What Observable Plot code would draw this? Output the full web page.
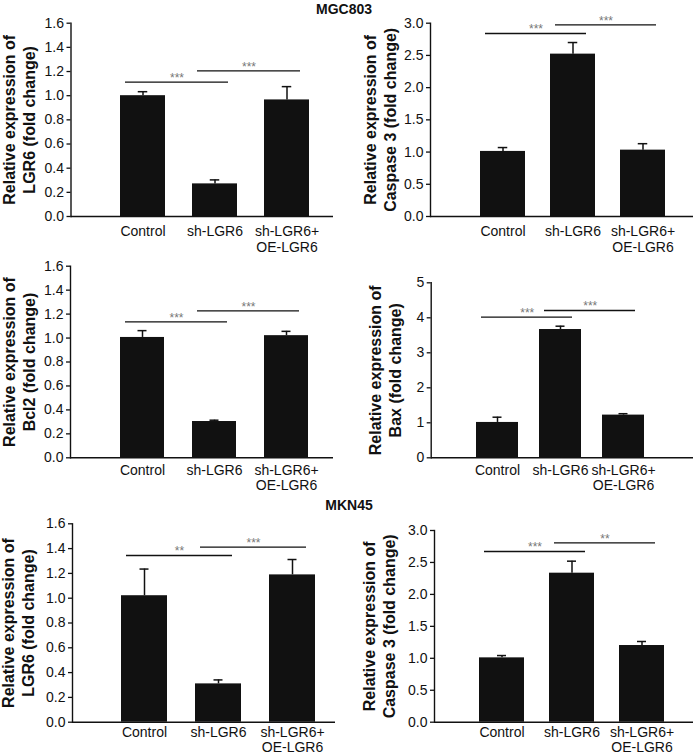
<!DOCTYPE html>
<html>
<head>
<meta charset="utf-8">
<script src="https://cdn.jsdelivr.net/npm/d3@7"></script>
<script src="https://cdn.jsdelivr.net/npm/@observablehq/plot@0.6"></script>
<style>
  html, body { margin: 0; padding: 0; background: #fff; }
  #wrap { position: relative; width: 693px; height: 755px; overflow: hidden; font-family: "Liberation Sans", Arial, sans-serif; }
  .cell { position: absolute; }
  .head { position: absolute; font-weight: bold; font-size: 14px; transform: translate(-50%, -50%); z-index: 5; color: #111; white-space: nowrap; }
</style>
</head>
<body>
<div id="wrap"></div>
<script>
// ---------- data ----------
const groups = ["Control", "sh-LGR6", "sh-LGR6+ OE-LGR6"];

const mgcLgr6 = [1.00, 0.27, 0.965];
const mgcLgr6Err = [0.033, 0.033, 0.11];
const mgcCasp3 = [1.01, 2.52, 1.03];
const mgcCasp3Err = [0.06, 0.18, 0.10];
const mgcBcl2 = [1.005, 0.303, 1.02];
const mgcBcl2Err = [0.057, 0.011, 0.036];
const mgcBax = [1.01, 3.665, 1.22];
const mgcBaxErr = [0.15, 0.095, 0.04];
const mknLgr6 = [1.02, 0.309, 1.188];
const mknLgr6Err = [0.215, 0.032, 0.124];
const mknCasp3 = [1.007, 2.332, 1.20];
const mknCasp3Err = [0.036, 0.188, 0.063];

// significance brackets: [from, to]
const comparisons = [["Control", "sh-LGR6"], ["sh-LGR6", "sh-LGR6+ OE-LGR6"]];
const mgcLgr6Sig = [1.112, 1.205], mgcLgr6Stars = ["***", "***"];
const mgcCasp3Sig = [2.84, 2.974], mgcCasp3Stars = ["***", "***"];
const mgcBcl2Sig = [1.135, 1.227], mgcBcl2Stars = ["***", "***"];
const mgcBaxSig = [4.02, 4.21], mgcBaxStars = ["***", "***"];
const mknLgr6Sig = [1.344, 1.412], mknLgr6Stars = ["**", "***"];
const mknCasp3Sig = [2.671, 2.807], mknCasp3Stars = ["***", "**"];

const ticks16 = [0, 0.2, 0.4, 0.6, 0.8, 1.0, 1.2, 1.4, 1.6];
const ticks30 = [0, 0.5, 1.0, 1.5, 2.0, 2.5, 3.0];
const ticks5 = [0, 1, 2, 3, 4, 5];

const titles = {
  lgr6: "Relative expression of\nLGR6 (fold change)",
  casp3: "Relative expression of\nCaspase 3 (fold change)",
  bcl2: "Relative expression of\nBcl2 (fold change)",
  bax: "Relative expression of\nBax (fold change)"
};

// ---------- layout ----------
const panels = [
  {values: mgcLgr6, err: mgcLgr6Err, sig: mgcLgr6Sig, stars: mgcLgr6Stars, ticks: ticks16, fmt: ".1f", title: titles.lgr6,
   left: 0, top: 0, w: 340, h: 252, fL: 70.5, fR: 333, fT: 22.7, fB: 216, barStart: 120, barW: 44.5, step: 72, tOff: 52, tp: 9, lh: 1.1},
  {values: mgcCasp3, err: mgcCasp3Err, sig: mgcCasp3Sig, stars: mgcCasp3Stars, ticks: ticks30, fmt: ".1f", title: titles.casp3,
   left: 340, top: 0, w: 353, h: 252, fL: 430, fR: 693, fT: 22.7, fB: 216, barStart: 480, barW: 44.5, step: 70, tOff: 51, tp: 9, lh: 1.1},
  {values: mgcBcl2, err: mgcBcl2Err, sig: mgcBcl2Sig, stars: mgcBcl2Stars, ticks: ticks16, fmt: ".1f", title: titles.bcl2,
   left: 0, top: 252, w: 340, h: 243, fL: 70, fR: 333, fT: 265.7, fB: 457.3, barStart: 120, barW: 44, step: 72, tOff: 52, tp: 6, lh: 1.1},
  {values: mgcBax, err: mgcBaxErr, sig: mgcBaxSig, stars: mgcBaxStars, ticks: ticks5, fmt: "d", title: titles.bax,
   left: 340, top: 252, w: 353, h: 243, fL: 430.7, fR: 693, fT: 282.3, fB: 457.3, barStart: 475, barW: 42, step: 63.5, tOff: 47, tp: 6, lh: 1.1},
  {values: mknLgr6, err: mknLgr6Err, sig: mknLgr6Sig, stars: mknLgr6Stars, ticks: ticks16, fmt: ".1f", title: titles.lgr6,
   left: 0, top: 495, w: 340, h: 260, fL: 72, fR: 335, fT: 523.3, fB: 721.7, barStart: 121, barW: 46, step: 74, tOff: 54.5, tp: 4, lh: 1.08},
  {values: mknCasp3, err: mknCasp3Err, sig: mknCasp3Sig, stars: mknCasp3Stars, ticks: ticks30, fmt: ".1f", title: titles.casp3,
   left: 340, top: 495, w: 353, h: 260, fL: 434, fR: 693, fT: 530, fB: 721.7, barStart: 479, barW: 45, step: 70, tOff: 56, tp: 4, lh: 1.08}
];

const wrap = document.getElementById("wrap");
const lineInsetL = 5, lineInsetR = 9;

for (const p of panels) {
  const rows = groups.map((g, i) => ({group: g, value: p.values[i], top: p.values[i] + p.err[i]}));
  const sigRows = comparisons.map((c, i) => ({from: c[0], to: c[1], y: p.sig[i], label: p.stars[i]}));
  const pi = 1 - p.barW / p.step;
  const rangeEnd = p.barStart + p.step * (groups.length - pi);
  const yMax = p.ticks[p.ticks.length - 1];
  const capInset = (p.barW - 9) / 2;

  const chart = Plot.plot({
    width: p.w,
    height: p.h,
    marginLeft: p.fL - p.left,
    marginRight: p.left + p.w - p.fR,
    marginTop: p.fT - p.top,
    marginBottom: p.top + p.h - p.fB,
    style: {fontFamily: "'Liberation Sans', Arial, sans-serif", fontSize: "14px", color: "#111", background: "transparent", overflow: "visible"},
    x: {domain: groups, paddingInner: pi, paddingOuter: 0, insetLeft: p.barStart - p.fL, insetRight: p.fR - rangeEnd},
    y: {domain: [0, yMax]},
    marks: [
      Plot.barY(rows, {x: "group", y: "value", fill: "#111"}),
      Plot.ruleX(rows, {x: "group", y1: "value", y2: "top", stroke: "#111", strokeWidth: 1.5}),
      Plot.tickY(rows, {x: "group", y: "top", stroke: "#111", strokeWidth: 1.5, insetLeft: capInset, insetRight: capInset}),
      Plot.ruleY(sigRows, {x1: "from", x2: "to", y: "y", stroke: "#111", strokeWidth: 1.4, insetLeft: lineInsetL, insetRight: lineInsetR}),
      Plot.text(sigRows, {x: "from", y: "y", text: "label", dx: p.step / 2 + (lineInsetL - lineInsetR) / 2, dy: -4, fontSize: 12, fill: "#777"}),
      Plot.ruleY([0], {stroke: "#111", strokeWidth: 1.4}),
      Plot.frame({anchor: "left", stroke: "#111", strokeWidth: 1.4}),
      Plot.axisY({ticks: p.ticks, tickFormat: d3.format(p.fmt), tickSize: 4, tickPadding: 3, fontSize: 14, label: null, strokeWidth: 1.3}),
      Plot.axisX({tickSize: 0, tickPadding: p.tp, fontSize: 14, label: null, lineHeight: p.lh, tickFormat: d => d.replace("+ ", "+\n")}),
      Plot.text([p.title], {text: d => d, frameAnchor: "left", textAnchor: "middle", lineAnchor: "middle", dx: -p.tOff, rotate: -90, fontSize: 16, fontWeight: "bold", lineHeight: 1.25, fill: "#111"})
    ]
  });
  const cell = document.createElement("div");
  cell.className = "cell";
  cell.style.left = p.left + "px";
  cell.style.top = p.top + "px";
  cell.appendChild(chart);
  wrap.appendChild(cell);
}

const heads = [{text: "MGC803", x: 344, y: 9}, {text: "MKN45", x: 349, y: 505}];
for (const h of heads) {
  const d = document.createElement("div");
  d.className = "head";
  d.style.left = h.x + "px";
  d.style.top = h.y + "px";
  d.textContent = h.text;
  wrap.appendChild(d);
}
</script>
</body>
</html>
